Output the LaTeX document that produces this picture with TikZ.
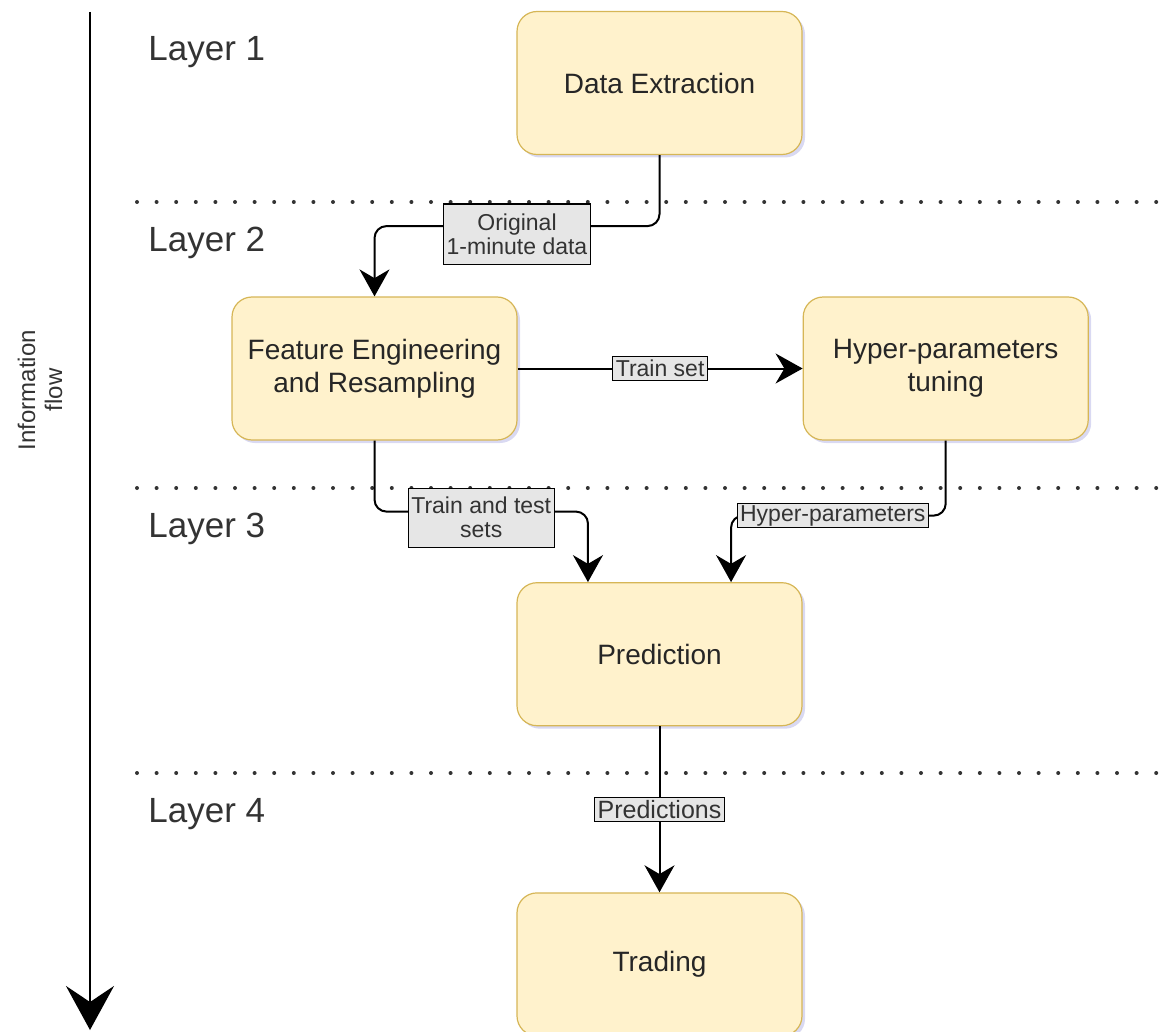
\documentclass[tikz,border=0pt]{standalone}
\usepackage{fontspec}
\setmainfont{Liberation Sans}
\usetikzlibrary{arrows.meta, positioning, calc, shadows}

\definecolor{stagefill}{HTML}{FFF2CC}
\definecolor{stageline}{HTML}{D6B656}
\definecolor{tagfill}{HTML}{E6E6E6}
\definecolor{inkgray}{HTML}{333333}

\begin{document}
\begin{tikzpicture}[
  x=0.5pt, y=-0.5pt,
  stage/.style={draw=stageline, fill=stagefill, rounded corners=10pt, line width=0.6pt,
              minimum width=142.5pt, minimum height=71.5pt, align=center,
              font=\fontsize{14}{16.5}\selectfont, text=black!85,
              drop shadow={shadow xshift=1.5pt, shadow yshift=-1.5pt, opacity=0.2, fill=blue!50!gray}},
  tag/.style={draw, fill=tagfill, sharp corners, line width=0.6pt, inner xsep=1.5pt, inner ysep=0.5pt,
              minimum height=12pt, align=center, text=inkgray,
              font=\fontsize{11.5}{12}\selectfont},
  flow/.style={-{Stealth[length=13.5pt, width=15pt]}, line width=1pt, rounded corners=6pt},
  axisarrow/.style={-{Stealth[length=22pt, width=24pt, inset=8pt]}, line width=1pt},
  sep/.style={line width=2pt, line cap=round, dash pattern=on 0pt off 9.8pt, inkgray},
  layer/.style={anchor=base west, inner sep=0pt, text=inkgray, font=\fontsize{17.5}{20}\selectfont},
  ann/.style={text=inkgray, align=center, font=\fontsize{12}{13.5}\selectfont}
]
\useasboundingbox (0,0) rectangle (1166,1032);

% information flow axis
\coordinate (flowtop) at (90,12);
\coordinate (flowend) at (90,1030);
\draw[axisarrow] (flowtop) -- (flowend);
\node[ann, rotate=90] (flowlabel) at (40,390) {Information\\flow};

% layer separators and names
\foreach \y in {202,488,773}
  \draw[sep] (137,\y) -- (1166,\y);
\foreach \n/\y in {1/61,2/251,3/537,4/822}
  \node[layer] (layer\n) at (148,\y) {Layer \n};

% stages
\node[stage] (extract) at (659.5,83) {Data Extraction};
\node[stage] (feature) at (374.5,368.5) {Feature Engineering\\and Resampling};
\node[stage, right=142.5pt of feature] (tuning) {Hyper-parameters\\tuning};
\node[stage, below=213.5pt of extract] (predict) {Prediction};
\node[stage, below=83pt of predict] (trade) {Trading};

\coordinate (predinL) at ($(predict.north west)!0.25!(predict.north east)$);
\coordinate (predinR) at ($(predict.north west)!0.75!(predict.north east)$);

% connectors
\draw[flow] (extract.south) -- ++(0,71) -| node[tag, pos=0.25, yshift=-4pt, minimum height=30pt]{Original\\1-minute data} (feature.north);
\draw[flow] (feature) -- node[tag]{Train set} (tuning);
\draw[flow] (feature.south) -- ++(0,71) -| node[tag, pos=0.25, yshift=-3pt, minimum height=29.5pt]{Train and test\\sets} (predinL);
\draw[flow] (tuning.south) -- ++(0,75) -| node[tag, pos=0.263]{Hyper-parameters} (predinR);
\draw[flow] (predict) -- node[tag, font=\fontsize{12.5}{13}\selectfont]{Predictions} (trade);
\end{tikzpicture}
\end{document}
